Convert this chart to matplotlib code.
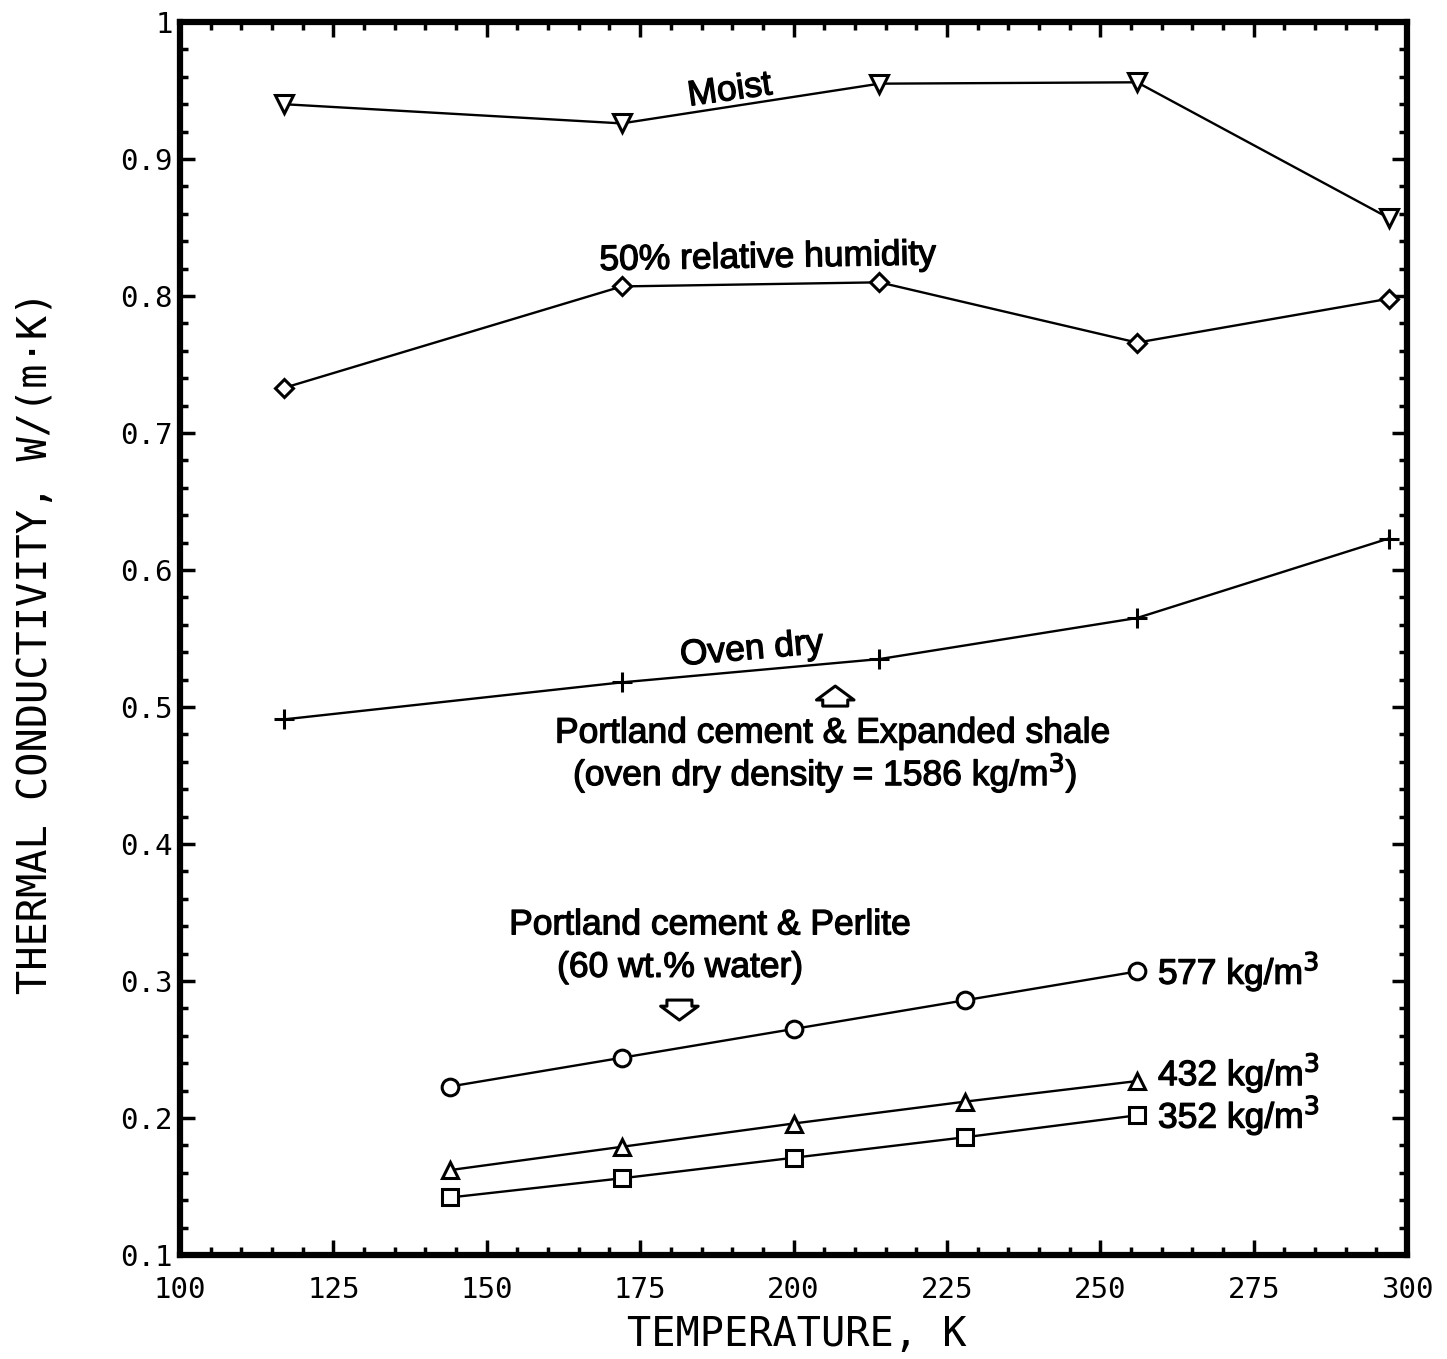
import matplotlib
matplotlib.use("Agg")
import matplotlib.pyplot as plt
import matplotlib.patheffects as pe
from matplotlib.ticker import MultipleLocator

# ---- data ----
shale_T = [117, 172, 214, 256, 297]
moist_k = [0.940, 0.926, 0.955, 0.956, 0.857]
rh50_k = [0.733, 0.807, 0.810, 0.766, 0.798]
ovendry_k = [0.491, 0.518, 0.535, 0.565, 0.623]

perlite_T = [144, 172, 200, 228, 256]
p577_k = [0.223, 0.244, 0.265, 0.286, 0.307]
p432_k = [0.162, 0.179, 0.196, 0.212, 0.227]
p352_k = [0.142, 0.156, 0.171, 0.186, 0.202]

xticks = [100, 125, 150, 175, 200, 225, 250, 275, 300]
xticklabels = ["100", "125", "150", "175", "200", "225", "250", "275", "300"]
yticks = [0.1, 0.2, 0.3, 0.4, 0.5, 0.6, 0.7, 0.8, 0.9, 1.0]
yticklabels = ["0.1", "0.2", "0.3", "0.4", "0.5", "0.6", "0.7", "0.8", "0.9", "1"]

# ---- figure ----
fig = plt.figure(figsize=(14.47, 13.59), dpi=100)
ax = fig.add_axes([0.1244, 0.0765, 0.848, 0.9073])

line_kw = dict(color="black", linewidth=1.7, markerfacecolor="white",
               markeredgecolor="black", markeredgewidth=2.2)

ax.plot(shale_T, moist_k, marker="v", markersize=13, **line_kw)
ax.plot(shale_T, rh50_k, marker="D", markersize=9, **line_kw)
ax.plot(shale_T, ovendry_k, marker="+", markersize=14, **line_kw)
ax.plot(perlite_T, p577_k, marker="o", markersize=12, **line_kw)
ax.plot(perlite_T, p432_k, marker="^", markersize=12, **line_kw)
ax.plot(perlite_T, p352_k, marker="s", markersize=11, **line_kw)

ax.set_xlim(100, 300)
ax.set_ylim(0.1, 1.0)
ax.set_xticks(xticks)
ax.set_xticklabels(xticklabels)
ax.set_yticks(yticks)
ax.set_yticklabels(yticklabels)
ax.xaxis.set_minor_locator(MultipleLocator(5))
ax.yaxis.set_minor_locator(MultipleLocator(0.02))

tickfont = "DejaVu Sans Mono"
ax.tick_params(which="both", direction="in", top=True, right=True, width=2.5,
               colors="black")
ax.tick_params(which="major", length=11)
ax.tick_params(which="minor", length=5.5)
ax.tick_params(axis="x", which="major", pad=15, labelsize=21)
ax.tick_params(axis="y", which="major", pad=5, labelsize=21)
for lab in ax.get_xticklabels() + ax.get_yticklabels():
    lab.set_family(tickfont)

for sp in ax.spines.values():
    sp.set_linewidth(4.5)

ax.set_xlabel("TEMPERATURE, K", family=tickfont, fontsize=29)
ax.set_ylabel("THERMAL CONDUCTIVITY, W/(m\u00b7K)", family=tickfont, fontsize=29)
ax.xaxis.set_label_coords(0.503, -0.049)
ax.yaxis.set_label_coords(-0.101, 0.497)

# ---- annotations ----
thick = [pe.withStroke(linewidth=0.9, foreground="black")]
afont = dict(family="Liberation Sans", fontsize=25.5, color="black",
             path_effects=thick)
ax.text(189.6, 0.950, "Moist", ha="center", va="center", rotation=8, **afont)
ax.text(195.8, 0.828, "50% relative humidity", ha="center", va="center",
        rotation=1, **afont)
ax.text(193.2, 0.542, "Oven dry", ha="center", va="center", rotation=5, **afont)
ax.text(206.4, 0.481, "Portland cement & Expanded shale", ha="center",
        va="center", **afont)
ax.text(205.1, 0.452, "(oven dry density = 1586 kg/m$^{3}$)", ha="center",
        va="center", **afont)
ax.text(186.4, 0.341, "Portland cement & Perlite", ha="center", va="center",
        **afont)
ax.text(181.5, 0.310, "(60 wt.% water)", ha="center", va="center", **afont)
ax.text(259.4, 0.307, "577 kg/m$^{3}$", ha="left", va="center", **afont)
ax.text(259.4, 0.233, "432 kg/m$^{3}$", ha="left", va="center", **afont)
ax.text(259.4, 0.202, "352 kg/m$^{3}$", ha="left", va="center", **afont)

arrow_kw = dict(arrowstyle="simple,head_width=27,head_length=10,tail_width=18",
                mutation_scale=1, fc="white", ec="black", lw=2.2,
                shrinkA=0, shrinkB=0)
# up arrow (pointing to oven dry curve)
ax.annotate("", xy=(206.8, 0.5153), xytext=(206.8, 0.5007), arrowprops=arrow_kw)
# down arrow (pointing to perlite curves)
ax.annotate("", xy=(181.4, 0.2715), xytext=(181.4, 0.2861), arrowprops=arrow_kw)

fig.savefig("out.png", dpi=100)
